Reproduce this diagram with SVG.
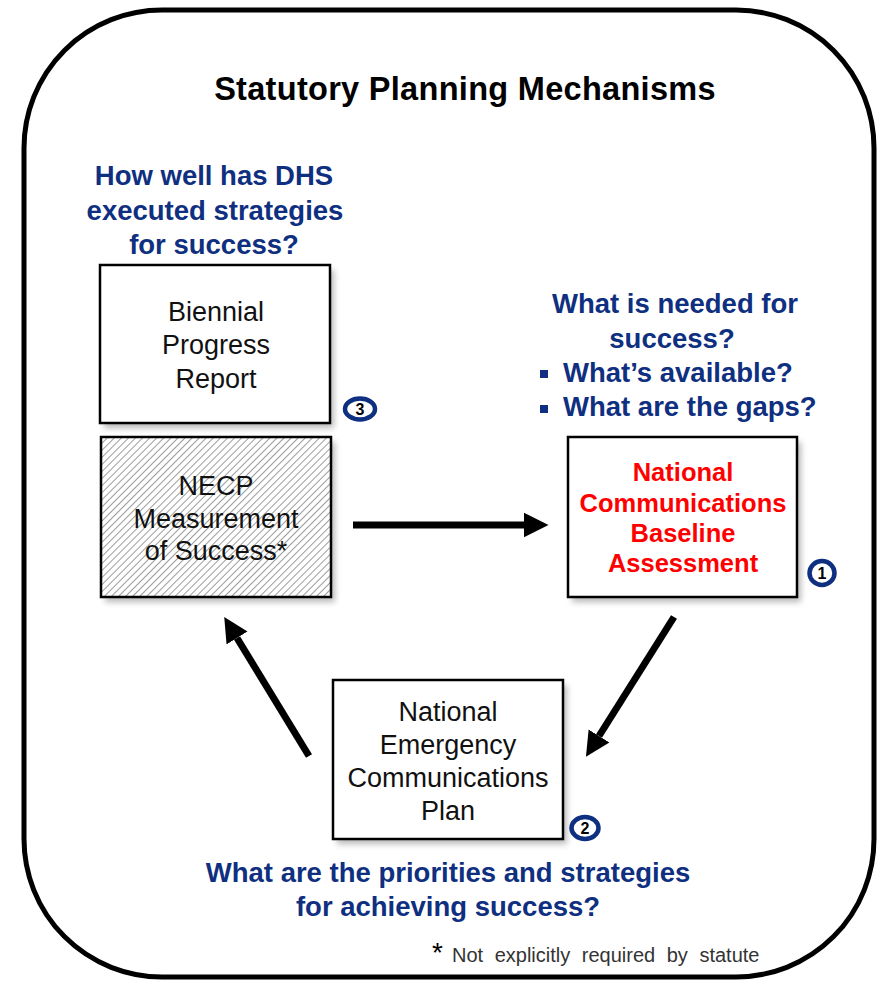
<svg xmlns="http://www.w3.org/2000/svg" width="881" height="982" viewBox="0 0 881 982">
<style>
.box{fill:#fff;stroke:#000;stroke-width:2.5}
.sh{fill:#000;opacity:0.28;filter:url(#blur)}
.t{font-family:"Liberation Sans",Arial,sans-serif;font-size:27px;fill:#111;text-anchor:middle}
.q{font-family:"Liberation Sans",Arial,sans-serif;font-size:27.5px;font-weight:bold;fill:#0f2f80;text-anchor:middle}
.qs{text-anchor:start}
.r{font-family:"Liberation Sans",Arial,sans-serif;font-size:25.5px;font-weight:bold;fill:#ff0000;text-anchor:middle}
.badge{fill:#fff;stroke:#0f2f80;stroke-width:4.5}
.bt{font-family:"Liberation Sans",Arial,sans-serif;font-size:16px;font-weight:bold;fill:#000;text-anchor:middle}
.arr{stroke:#000;stroke-width:7;fill:none;marker-end:url(#ah)}
</style>
<defs>
<filter id="blur" x="-10%" y="-10%" width="120%" height="120%"><feGaussianBlur stdDeviation="3"/></filter>
<pattern id="hatch" width="5" height="5" patternUnits="userSpaceOnUse" patternTransform="rotate(45)">
<rect width="5" height="5" fill="#fff"/>
<line x1="0" y1="0" x2="0" y2="5" stroke="#8a8a8a" stroke-width="1.7"/>
</pattern>
<marker id="ah" viewBox="0 0 10 10" refX="0" refY="5" markerWidth="3.5" markerHeight="3.6" orient="auto" markerUnits="strokeWidth">
<path d="M0,0 L10,5 L0,10 z" fill="#000"/>
</marker>
</defs>
<rect width="881" height="982" fill="#fff"/>
<rect x="24" y="10" width="850" height="967" rx="138" ry="138" fill="#fff" stroke="#000" stroke-width="5"/>
<text x="465" y="100" font-family="'Liberation Sans',Arial,sans-serif" font-size="32.5" font-weight="bold" text-anchor="middle" fill="#000" letter-spacing="0.3">Statutory Planning Mechanisms</text>

<g id="q-dhs">
<text class="q" x="214" y="185">How well has DHS</text>
<text class="q" x="215" y="220">executed strategies</text>
<text class="q" x="214" y="254">for success?</text>
</g>
<g id="q-needed">
<text class="q" x="675" y="313">What is needed for</text>
<text class="q" x="672" y="348">success?</text>
<rect x="540" y="370" width="8" height="8" fill="#0f2f80"/>
<text class="q qs" x="563" y="382">What’s available?</text>
<rect x="540" y="405" width="8" height="8" fill="#0f2f80"/>
<text class="q qs" x="563" y="416">What are the gaps?</text>
</g>

<g id="biennial">
<rect class="sh" x="104" y="270" width="230" height="158"/>
<rect class="box" x="100" y="265" width="230" height="158"/>
<text class="t" x="216" y="321">Biennial</text>
<text class="t" x="216" y="354">Progress</text>
<text class="t" x="216" y="388">Report</text>
<ellipse class="badge" cx="360" cy="409" rx="15" ry="10.5"/>
<text class="bt" x="360" y="415">3</text>
</g>

<g id="necp-measure">
<rect class="sh" x="105" y="442" width="230" height="160"/>
<rect class="box" x="101" y="437" width="230" height="160" style="fill:url(#hatch)"/>
<text class="t" x="216" y="495">NECP</text>
<text class="t" x="216" y="528">Measurement</text>
<text class="t" x="216" y="560">of Success*</text>
</g>

<g id="baseline">
<rect class="sh" x="572" y="442" width="229" height="160"/>
<rect class="box" x="568" y="437" width="229" height="160"/>
<text class="r" x="683" y="481">National</text>
<text class="r" x="683" y="512">Communications</text>
<text class="r" x="683" y="542">Baseline</text>
<text class="r" x="683" y="572">Assessment</text>
<ellipse class="badge" cx="822" cy="573" rx="12.5" ry="12"/>
<text class="bt" x="822" y="579">1</text>
</g>

<g id="necp">
<rect class="sh" x="337" y="685" width="230" height="159"/>
<rect class="box" x="333" y="680" width="230" height="159"/>
<text class="t" x="448" y="721">National</text>
<text class="t" x="448" y="754">Emergency</text>
<text class="t" x="448" y="787">Communications</text>
<text class="t" x="448" y="820">Plan</text>
<ellipse class="badge" cx="585" cy="828" rx="13.5" ry="11"/>
<text class="bt" x="585" y="834">2</text>
</g>

<g id="q-priorities">
<text class="q" x="448" y="882">What are the priorities and strategies</text>
<text class="q" x="448" y="916">for achieving success?</text>
</g>

<g id="footnote">
<text x="432" y="962" font-family="'Liberation Sans',Arial,sans-serif" font-size="28" fill="#000">*</text>
<text x="452" y="962" font-family="'Liberation Sans',Arial,sans-serif" font-size="20" fill="#333" word-spacing="6">Not explicitly required by statute</text>
</g>

<g id="connectors">
<line class="arr" x1="353" y1="525" x2="524" y2="525"/>
<line class="arr" x1="674" y1="617" x2="599" y2="736"/>
<line class="arr" x1="309" y1="756" x2="237" y2="638"/>
</g>
</svg>
